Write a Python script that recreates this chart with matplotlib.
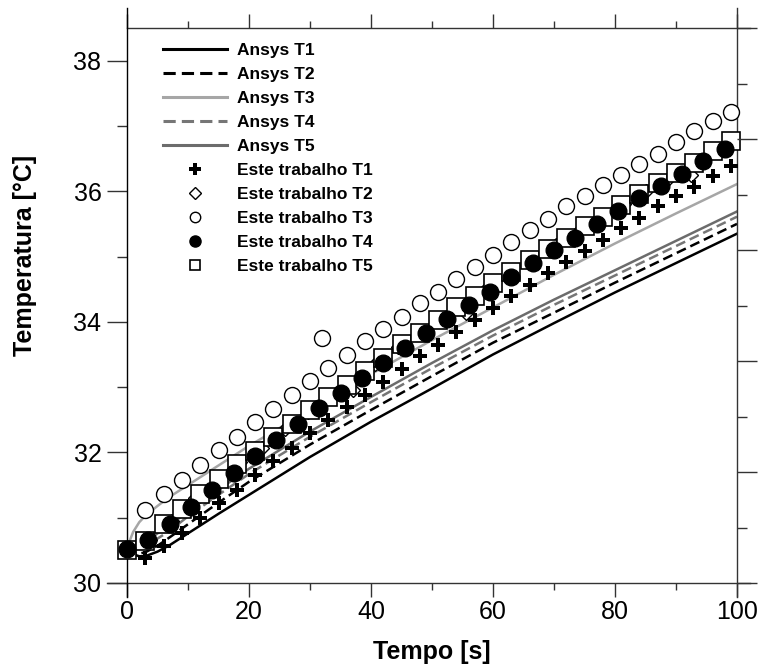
import matplotlib
matplotlib.use("Agg")
import matplotlib.pyplot as plt
from matplotlib.lines import Line2D
import numpy as np

plt.rcParams['font.family'] = ['Liberation Sans', 'DejaVu Sans']

# Ansys curves
t_ansys = [0, 0.5, 1, 2, 3, 5, 7, 10, 15, 20, 30, 40, 50, 60, 70, 80, 90, 100]
ansys_t1 = [30.5, 30.47, 30.44, 30.41, 30.41, 30.48, 30.58, 30.76, 31.06, 31.35, 31.93, 32.47,
            32.98, 33.5, 33.98, 34.45, 34.9, 35.35]
ansys_t2 = [30.5, 30.48, 30.46, 30.45, 30.47, 30.57, 30.7, 30.9, 31.23, 31.55, 32.12, 32.65,
            33.17, 33.68, 34.14, 34.6, 35.05, 35.5]
ansys_t3 = [30.5, 30.66, 30.78, 30.93, 31.03, 31.18, 31.32, 31.5, 31.8, 32.1, 32.65, 33.2,
            33.72, 34.22, 34.72, 35.2, 35.66, 36.11]
ansys_t4 = [30.5, 30.5, 30.5, 30.52, 30.56, 30.68, 30.8, 31.02, 31.35, 31.67, 32.24, 32.77,
            33.29, 33.79, 34.26, 34.71, 35.16, 35.61]
ansys_t5 = [30.5, 30.52, 30.54, 30.58, 30.63, 30.76, 30.88, 31.1, 31.43, 31.75, 32.32, 32.85,
            33.37, 33.87, 34.34, 34.79, 35.24, 35.69]

# Este trabalho points
t_step3 = [0, 3, 6, 9, 12, 15, 18, 21, 24, 27, 30, 33, 36, 39, 42, 45, 48, 51, 54, 57, 60,
           63, 66, 69, 72, 75, 78, 81, 84, 87, 90, 93, 96, 99]
este_t1 = [30.5, 30.38, 30.56, 30.77, 30.99, 31.22, 31.43, 31.66, 31.87, 32.07, 32.29, 32.5,
           32.7, 32.88, 33.08, 33.27, 33.47, 33.65, 33.85, 34.03, 34.21, 34.39, 34.57, 34.75,
           34.92, 35.08, 35.26, 35.44, 35.59, 35.77, 35.92, 36.07, 36.23, 36.39]
este_t3 = [30.5, 31.12, 31.37, 31.58, 31.81, 32.04, 32.24, 32.46, 32.67, 32.88, 33.09, 33.29,
           33.49, 33.7, 33.89, 34.08, 34.29, 34.46, 34.65, 34.84, 35.03, 35.22, 35.4, 35.58,
           35.77, 35.93, 36.1, 36.25, 36.42, 36.57, 36.75, 36.92, 37.07, 37.22]
este_t3_extra_t = [32]
este_t3_extra = [33.75]
este_t5 = [30.51, 30.64, 30.9, 31.13, 31.36, 31.59, 31.83, 32.02, 32.23, 32.43, 32.65, 32.85,
           33.04, 33.25, 33.45, 33.66, 33.83, 34.03, 34.22, 34.4, 34.59, 34.77, 34.94, 35.11,
           35.28, 35.46, 35.61, 35.79, 35.96, 36.13, 36.28, 36.44, 36.61, 36.77]

t_t2 = [0, 3.7, 7.4, 11.1, 14.8, 18.5, 22.2, 25.9, 29.6, 33.3, 37.0, 40.7, 44.4, 48.1, 51.8,
        55.5, 59.2, 62.9, 66.6, 70.3, 74.0, 77.7, 81.4, 85.1, 88.8, 92.5, 96.2]
este_t2 = [30.5, 30.66, 30.95, 31.3, 31.55, 31.85, 32.06, 32.36, 32.62, 32.86, 32.96, 33.36,
           33.62, 33.84, 34.06, 34.13, 34.53, 34.76, 34.97, 35.18, 35.38, 35.58, 35.8, 36.0,
           36.2, 36.25, 36.6]

t_t4 = [0, 3.5, 7, 10.5, 14, 17.5, 21, 24.5, 28, 31.5, 35, 38.5, 42, 45.5, 49, 52.5, 56, 59.5,
        63, 66.5, 70, 73.5, 77, 80.5, 84, 87.5, 91, 94.5, 98]
este_t4 = [30.52, 30.66, 30.91, 31.17, 31.43, 31.68, 31.94, 32.19, 32.43, 32.68, 32.91, 33.14,
           33.37, 33.6, 33.83, 34.05, 34.26, 34.46, 34.68, 34.9, 35.1, 35.29, 35.5, 35.69,
           35.89, 36.08, 36.27, 36.46, 36.64]

fig = plt.figure(figsize=(7.6, 6.7), dpi=100)
ax = fig.add_axes([127 / 760, 87 / 670, 610 / 760, 555 / 670])

lw = 1.8
ax.plot(t_ansys, ansys_t1, color="black", lw=lw, zorder=2)
ax.plot(t_ansys, ansys_t2, color="black", lw=lw, dashes=(4, 2), zorder=2)
ax.plot(t_ansys, ansys_t3, color="#a6a6a6", lw=lw, zorder=2)
ax.plot(t_ansys, ansys_t4, color="#767676", lw=lw, dashes=(4, 2), zorder=2)
ax.plot(t_ansys, ansys_t5, color="#6c6c6c", lw=lw, zorder=2)

ax.plot(t_t2, este_t2, ls="none", marker="D", ms=7, mfc="white", mec="black", mew=1,
        zorder=3, clip_on=False)
ax.plot(t_step3, este_t3, ls="none", marker="o", ms=11.5, mfc="white", mec="black", mew=1,
        zorder=3, clip_on=False)
ax.plot(este_t3_extra_t, este_t3_extra, ls="none", marker="o", ms=11.5, mfc="white",
        mec="black", mew=1, zorder=3)
ax.plot(t_step3, este_t5, ls="none", marker="s", ms=13.5, mfc="white", mec="black", mew=1.2,
        zorder=4, clip_on=False)
ax.plot(t_step3, este_t1, ls="none", marker="P", ms=10, color="black", mew=0,
        zorder=5, clip_on=False)
ax.plot(t_t4, este_t4, ls="none", marker="o", ms=12, color="black", zorder=5, clip_on=False)

ax.set_xlim(0, 100)
ax.set_ylim(30, 38.5)

# axis lines in Grapher style (extended past the box)
for s in ax.spines.values():
    s.set_visible(False)
axc = "#333333"
ax.plot([-0.033, 1.021], [0, 0], transform=ax.transAxes, color=axc, lw=1, clip_on=False)
ax.plot([0, 1.021], [1, 1], transform=ax.transAxes, color=axc, lw=1, clip_on=False)
ax.plot([0, 0], [-0.026, 1.036], transform=ax.transAxes, color="black", lw=1, clip_on=False)
ax.plot([1, 1], [-0.026, 1.036], transform=ax.transAxes, color=axc, lw=1, clip_on=False)

ax.set_xticks(np.arange(0, 101, 20))
ax.set_xticks(np.arange(10, 100, 20), minor=True)
ax.set_yticks(np.arange(30, 39, 2))
ax.set_yticks(np.arange(31, 39, 2), minor=True)
ax.tick_params(axis="x", which="major", direction="out", length=10, width=1, color=axc,
               top=True, labelsize=18, pad=2)
ax.tick_params(axis="x", which="minor", direction="out", length=5, width=1, color=axc, top=True)
ax.tick_params(axis="y", which="major", direction="out", length=14.4, width=1, color=axc,
               labelsize=18, pad=4)
ax.tick_params(axis="y", which="minor", direction="out", length=7.2, width=1, color=axc)

# right-hand axis ticks
ax2 = ax.twinx()
ax2.set_ylim(0, 10)
for s in ax2.spines.values():
    s.set_visible(False)
ax2.set_yticks(np.arange(0, 11, 2))
ax2.set_yticks(np.arange(1, 10, 2), minor=True)
ax2.tick_params(axis="y", which="major", direction="out", length=14.4, width=1, color=axc,
                labelright=False)
ax2.tick_params(axis="y", which="minor", direction="out", length=7.2, width=1, color=axc)

ax.set_xlabel("Tempo [s]", fontsize=18, fontweight="bold")
ax.set_ylabel("Temperatura [°C]", fontsize=18, fontweight="bold")
ax.xaxis.set_label_coords(0.5, -0.102)
ax.yaxis.set_label_coords(-0.147, 0.59)

handles = [
    Line2D([], [], color="black", lw=2.2),
    Line2D([], [], color="black", lw=2.2, dashes=(4, 2)),
    Line2D([], [], color="#a6a6a6", lw=2.2),
    Line2D([], [], color="#767676", lw=2.2, dashes=(4, 2)),
    Line2D([], [], color="#6c6c6c", lw=2.2),
    Line2D([], [], ls="none", marker="P", ms=8, color="black", mew=0),
    Line2D([], [], ls="none", marker="D", ms=6, mfc="white", mec="black", mew=1),
    Line2D([], [], ls="none", marker="o", ms=7.5, mfc="white", mec="black", mew=1),
    Line2D([], [], ls="none", marker="o", ms=8, color="black"),
    Line2D([], [], ls="none", marker="s", ms=7.5, mfc="white", mec="black", mew=1.2),
]
labels = ["Ansys T1", "Ansys T2", "Ansys T3", "Ansys T4", "Ansys T5",
          "Este trabalho T1", "Este trabalho T2", "Este trabalho T3", "Este trabalho T4",
          "Este trabalho T5"]
leg = ax.legend(handles, labels, loc="upper left", bbox_to_anchor=(0.059, 0.973),
                frameon=False, borderpad=0, borderaxespad=0, handlelength=3.68,
                handletextpad=0.57, labelspacing=0.51,
                prop={"size": 12.5, "weight": "bold"})
leg.set_zorder(10)

fig.savefig("out.png", dpi=100)
